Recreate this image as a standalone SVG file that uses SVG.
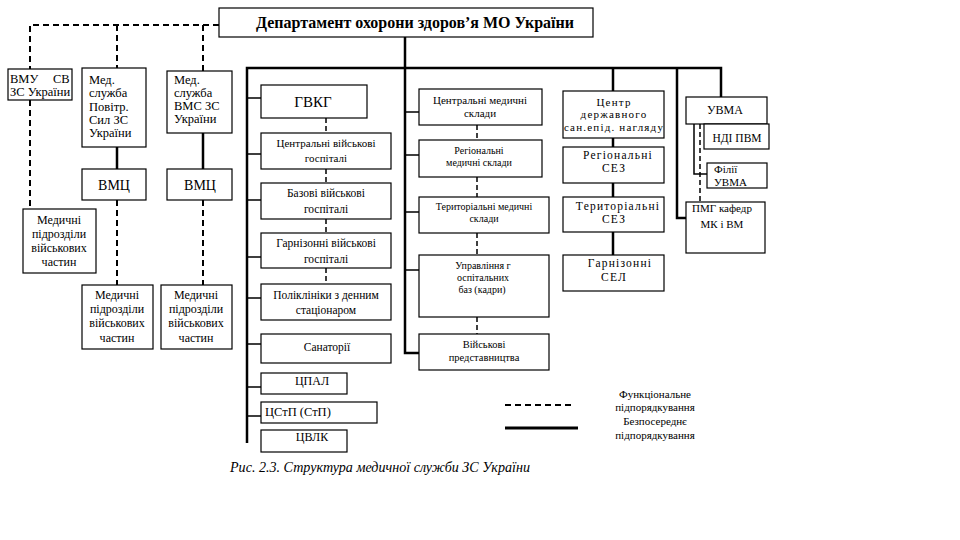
<svg xmlns="http://www.w3.org/2000/svg" width="960" height="540" viewBox="0 0 960 540">
<style>
.b{fill:#fff;stroke:#000;stroke-width:1.2}
.t{font-family:"Liberation Serif",serif;fill:#000;text-anchor:middle}
.l{text-anchor:start}
.w{letter-spacing:1.2px}
.s{fill:none;stroke:#000;stroke-width:2.5}
.m{fill:none;stroke:#000;stroke-width:1.5}
.d{fill:none;stroke:#000;stroke-width:2;stroke-dasharray:6,4}
.dt{fill:none;stroke:#000;stroke-width:1.5;stroke-dasharray:5,3}
</style>
<rect width="960" height="540" fill="#fff"/>
<g id="connectors">
<path class="d" d="M219,25H30V69M117,25V68M203,25V71M30,100V209M117,200V285M203,200V285"/>
<path class="s" d="M117,147V169M203,133V169"/>
<path class="s" d="M405,37V353H419M247,443V68H721V97M613,68V255M677,68V218H686"/>
<path class="m" d="M247,98H261M247,154H261M247,200H261M247,257H261M247,298H261M247,344H261M247,387H261M247,416H261M405,112H419M405,155H419M405,212H419M405,270H419M694,124V174H707"/>
<path class="dt" d="M326,118V133M326,169V183M326,219V233M326,268V284M477,125V140M477,177V197M477,233V255M477,317V334M700,124V202"/>
</g>
<g id="dept"><rect class="b" x="219" y="8" width="374" height="29"/><text class="t" x="415" y="28" font-size="16" font-weight="bold">Департамент охорони здоров’я МО України</text></g>
<g id="vmu"><rect class="b" x="8" y="69" width="64" height="31"/><text class="t l" font-size="12.5"><tspan x="10" y="83">ВМУ</tspan><tspan x="53" y="83">СВ</tspan><tspan x="10" y="96">ЗС України</tspan></text></g>
<g id="ps"><rect class="b" x="82" y="68" width="64" height="79"/><text class="t l" font-size="12.5"><tspan x="89" y="84">Мед.</tspan><tspan x="89" y="97">служба</tspan><tspan x="89" y="111">Повітр.</tspan><tspan x="89" y="124">Сил ЗС</tspan><tspan x="89" y="137">України</tspan></text></g>
<g id="vms"><rect class="b" x="167" y="71" width="65" height="62"/><text class="t l" font-size="12.5"><tspan x="174" y="84">Мед.</tspan><tspan x="174" y="97">служба</tspan><tspan x="174" y="110">ВМС ЗС</tspan><tspan x="174" y="123">України</tspan></text></g>
<g id="vmc1"><rect class="b" x="82" y="169" width="64" height="31"/><text class="t" x="114" y="190" font-size="14">ВМЦ</text></g>
<g id="vmc2"><rect class="b" x="167" y="169" width="65" height="31"/><text class="t" x="200" y="190" font-size="14">ВМЦ</text></g>
<g id="mp1"><rect class="b" x="23" y="209" width="73" height="64"/><text class="t" font-size="12"><tspan x="59" y="224">Медичні</tspan><tspan x="59" y="238">підрозділи</tspan><tspan x="59" y="252">військових</tspan><tspan x="59" y="266">частин</tspan></text></g>
<g id="mp2"><rect class="b" x="82" y="285" width="71" height="64"/><text class="t" font-size="12"><tspan x="117" y="299">Медичні</tspan><tspan x="117" y="313">підрозділи</tspan><tspan x="117" y="327">військових</tspan><tspan x="117" y="342">частин</tspan></text></g>
<g id="mp3"><rect class="b" x="161" y="285" width="71" height="64"/><text class="t" font-size="12"><tspan x="196" y="299">Медичні</tspan><tspan x="196" y="313">підрозділи</tspan><tspan x="196" y="327">військових</tspan><tspan x="196" y="342">частин</tspan></text></g>
<g id="gvkg"><rect class="b" x="261" y="85" width="106" height="33"/><text class="t" x="313" y="107" font-size="15">ГВКГ</text></g>
<g id="cvg"><rect class="b" x="261" y="133" width="130" height="36"/><text class="t" font-size="11"><tspan x="326" y="147">Центральні військові</tspan><tspan x="326" y="162">госпіталі</tspan></text></g>
<g id="bvg"><rect class="b" x="261" y="183" width="130" height="36"/><text class="t" font-size="11.5"><tspan x="326" y="197">Базові військові</tspan><tspan x="326" y="213">госпіталі</tspan></text></g>
<g id="gvg"><rect class="b" x="261" y="233" width="130" height="35"/><text class="t" font-size="11.5"><tspan x="326" y="247">Гарнізонні військові</tspan><tspan x="326" y="263">госпіталі</tspan></text></g>
<g id="pol"><rect class="b" x="261" y="284" width="130" height="36"/><text class="t" font-size="11.5"><tspan x="326" y="299">Поліклініки з денним</tspan><tspan x="326" y="314">стаціонаром</tspan></text></g>
<g id="san"><rect class="b" x="261" y="334" width="130" height="29"/><text class="t" x="327" y="351" font-size="11.5">Санаторії</text></g>
<g id="cpal"><rect class="b" x="261" y="373" width="86" height="21"/><text class="t" x="312" y="385" font-size="12">ЦПАЛ</text></g>
<g id="cstp"><rect class="b" x="261" y="402" width="116" height="21"/><text class="t l" x="265" y="416" font-size="12.5">ЦСтП (СтП)</text></g>
<g id="cvlk"><rect class="b" x="261" y="430" width="86" height="22"/><text class="t" x="312" y="441" font-size="12">ЦВЛК</text></g>
<g id="cms"><rect class="b" x="419" y="89" width="123" height="36"/><text class="t" font-size="11"><tspan x="480" y="104">Центральні медичні</tspan><tspan x="480" y="117">склади</tspan></text></g>
<g id="rms"><rect class="b" x="419" y="140" width="123" height="37"/><text class="t" font-size="10"><tspan x="479" y="154">Регіональні</tspan><tspan x="479" y="166">медичні склади</tspan></text></g>
<g id="tms"><rect class="b" x="419" y="197" width="130" height="36"/><text class="t" font-size="10"><tspan x="484" y="210">Територіальні медичні</tspan><tspan x="484" y="222">склади</tspan></text></g>
<g id="ugb"><rect class="b" x="419" y="255" width="130" height="62"/><text class="t" font-size="10"><tspan x="483" y="269">Управління г</tspan><tspan x="483" y="281">оспітальних</tspan><tspan x="482" y="293">баз (кадри)</tspan></text></g>
<g id="vp"><rect class="b" x="419" y="334" width="130" height="36"/><text class="t" font-size="10.5"><tspan x="484" y="348">Військові</tspan><tspan x="484" y="361">представництва</tspan></text></g>
<g id="cdsn"><rect class="b" x="563" y="91" width="101" height="47"/><text class="t w" font-size="11"><tspan x="614" y="106">Центр</tspan><tspan x="614" y="118">державного</tspan><tspan x="614" y="131">сан.епід. нагляду</tspan></text></g>
<g id="rsez"><rect class="b" x="563" y="147" width="101" height="36"/><text class="t w" font-size="11.5"><tspan x="618" y="159">Регіональні</tspan><tspan x="614" y="172">СЕЗ</tspan></text></g>
<g id="tsez"><rect class="b" x="563" y="197" width="101" height="35"/><text class="t w" font-size="11.5"><tspan x="618" y="210">Територіальні</tspan><tspan x="614" y="223">СЕЗ</tspan></text></g>
<g id="gsel"><rect class="b" x="563" y="255" width="101" height="36"/><text class="t w" font-size="11.5"><tspan x="620" y="267">Гарнізонні</tspan><tspan x="614" y="281">СЕЛ</tspan></text></g>
<g id="uvma"><rect class="b" x="686" y="97" width="81" height="27"/><text class="t" x="725" y="114" font-size="12">УВМА</text></g>
<g id="ndi"><rect class="b" x="704" y="124" width="65" height="25"/><text class="t" x="737" y="142" font-size="11.5">НДІ ПВМ</text></g>
<g id="filii"><rect class="b" x="707" y="163" width="60" height="25"/><text class="t l" font-size="11"><tspan x="714" y="173">Філії</tspan><tspan x="714" y="186">УВМА</tspan></text></g>
<g id="pmg"><rect class="b" x="686" y="202" width="79" height="51"/><text class="t" font-size="11"><tspan x="722" y="212">ПМГ кафедр</tspan><tspan x="722" y="228">МК і ВМ</tspan></text></g>
<g id="legend">
<path class="d" d="M505,405H575"/>
<path fill="none" stroke="#000" stroke-width="3" d="M505,428H578"/>
<text class="t" font-size="11"><tspan x="655" y="398">Функціональне</tspan><tspan x="655" y="411">підпорядкування</tspan><tspan x="655" y="425">Безпосереднє</tspan><tspan x="655" y="439">підпорядкування</tspan></text>
</g>
<text x="230" y="472" font-family="Liberation Serif,serif" font-size="14" font-style="italic" fill="#000" textLength="300" lengthAdjust="spacingAndGlyphs">Рис. 2.3. Структура медичної служби ЗС України</text>
</svg>
